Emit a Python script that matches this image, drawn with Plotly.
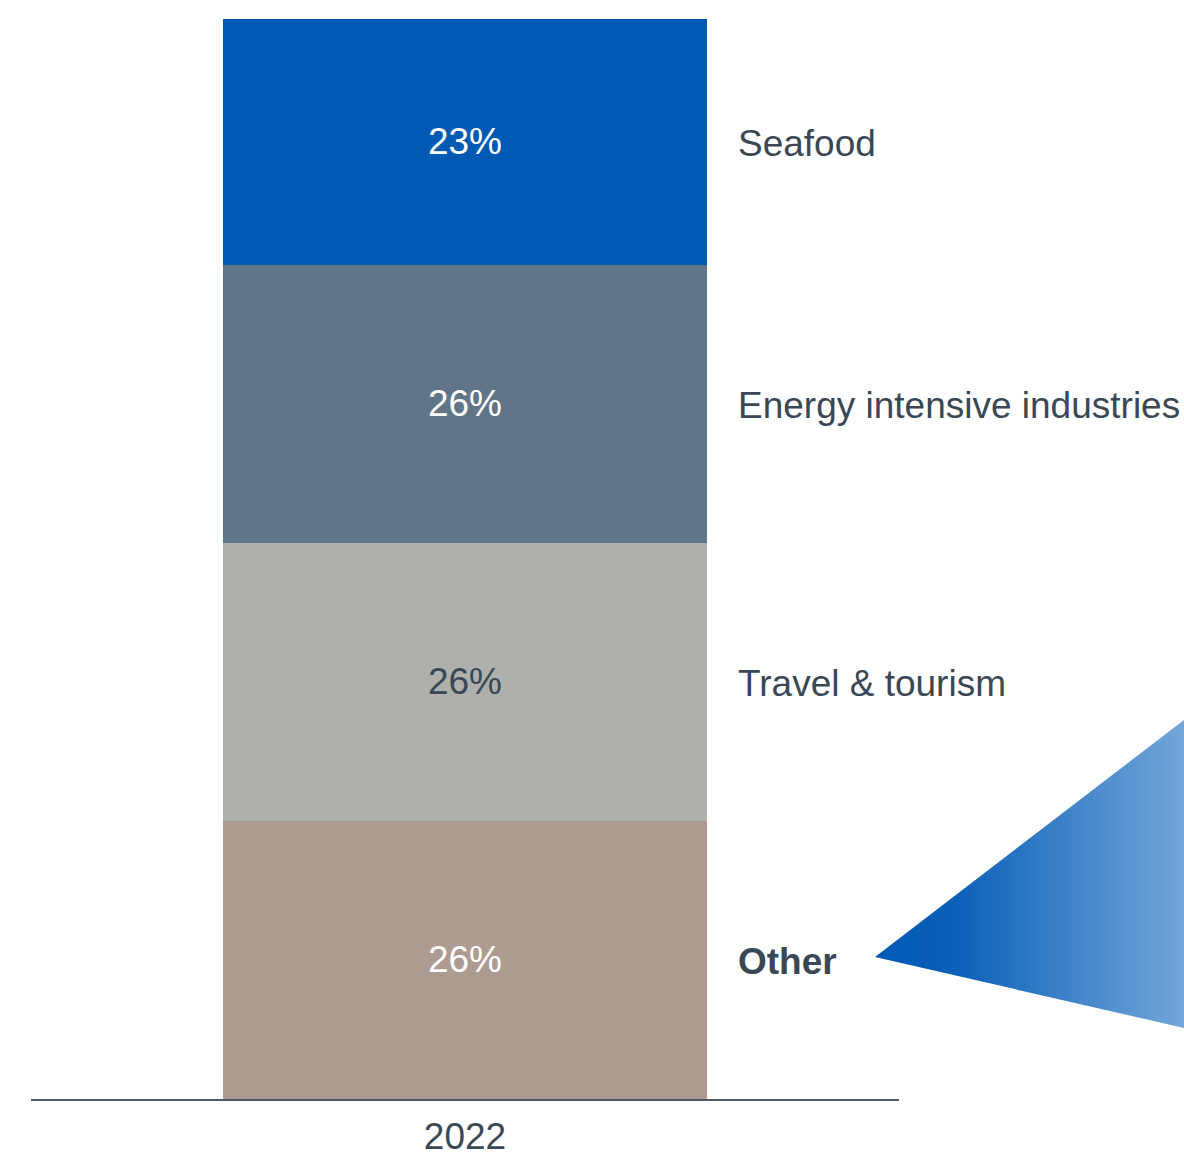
import plotly.graph_objects as go

# ---- data ----
year = ["2022"]
segments = ["Other", "Travel & tourism", "Energy intensive industries", "Seafood"]
values = [26, 26, 26, 23]
bar_colors = ["#ad9b92", "#aeb0ab", "#607587", "#0059b3"]
bar_text_colors = ["#ffffff", "#3a4855", "#ffffff", "#ffffff"]
label_bold = [True, False, False, False]

TXT = "#3a4855"
FONT = "Liberation Sans, Arial, sans-serif"
W, H = 1184, 1153
L_PX, R_PX, TOP_PX, BOT_PX = 31, 899, 19, 1099

fig = go.Figure()
for name, v, c, tc in zip(segments, values, bar_colors, bar_text_colors):
    fig.add_trace(go.Bar(
        x=year, y=[v], name=name, marker=dict(color=c, line=dict(width=0)),
        width=0.5565, text=[f"{v}%"], texttemplate="%{text}",
        textposition="inside", insidetextanchor="middle",
        textfont=dict(size=37, color=tc, family=FONT),
        hoverinfo="skip", xaxis="x", yaxis="y",
    ))

# decorative gradient callout pointer (separate full-page overlay axes in pixel units)
fig.add_trace(go.Scatter(
    x=[875, 1184, 1184, 875], y=[957, 720, 1028, 957],
    mode="lines", line=dict(width=0, color="rgba(0,0,0,0)"),
    fill="toself",
    fillgradient=dict(type="horizontal",
                      colorscale=[[0, "#0059b3"], [0.25, "#0a5fb8"], [1, "#73a6d9"]]),
    hoverinfo="skip", xaxis="x2", yaxis="y2", showlegend=False,
))

annotations = []
cum = 0
for name, v, b in zip(segments, values, label_bold):
    mid = cum + v / 2
    cum += v
    annotations.append(dict(
        x=736 / W, xref="paper", y=mid, yref="y", yshift=-2,
        text=f"<b>{name}</b>" if b else name, showarrow=False,
        xanchor="left", yanchor="middle",
        font=dict(size=37, color=TXT, family=FONT),
    ))
total = cum

fig.update_layout(
    barmode="stack",
    width=W, height=H,
    margin=dict(l=0, r=0, t=TOP_PX, b=H - BOT_PX, pad=0, autoexpand=False),
    paper_bgcolor="white", plot_bgcolor="rgba(0,0,0,0)",
    showlegend=False,
    font=dict(family=FONT, color=TXT),
    xaxis=dict(domain=[L_PX / W, R_PX / W], showline=True, linecolor="#4d5b68",
               linewidth=2, ticks="", showgrid=False, zeroline=False,
               ticklabelstandoff=4, automargin=False,
               tickfont=dict(size=37, color=TXT, family=FONT), range=[-0.5, 0.5]),
    yaxis=dict(range=[0, total], visible=False, showgrid=False, zeroline=False,
               automargin=False),
    xaxis2=dict(domain=[0, 1], range=[0, W], visible=False, anchor="y2", automargin=False),
    yaxis2=dict(domain=[0, 1], range=[BOT_PX, TOP_PX], visible=False, anchor="x2",
                automargin=False),
    annotations=annotations,
)

fig.write_html("out.html",
               config={"displayModeBar": False, "staticPlot": True},
               post_script="document.body.style.margin='0';document.body.style.padding='0';"
                           "document.body.style.overflow='hidden';")
